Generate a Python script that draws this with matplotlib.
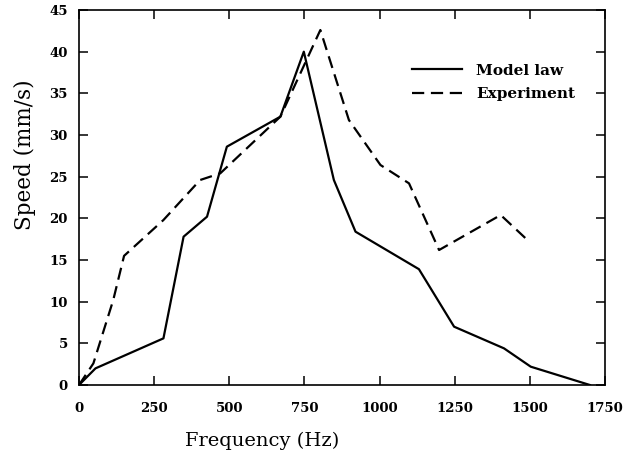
import matplotlib
matplotlib.use("Agg")
import matplotlib.pyplot as plt

# Data
model_freq = [0, 55, 281, 348, 426, 492, 670, 748, 848, 920, 1131, 1248, 1414, 1503, 1700]
model_speed = [0, 2.0, 5.6, 17.8, 20.2, 28.6, 32.2, 40.0, 24.6, 18.4, 13.9, 7.0, 4.4, 2.2, 0]

exp_freq = [0, 48, 114, 150, 281, 403, 470, 670, 803, 898, 1003, 1098, 1198, 1403, 1492]
exp_speed = [0, 2.6, 10.2, 15.5, 19.8, 24.6, 25.4, 32.2, 42.6, 31.8, 26.4, 24.2, 16.2, 20.4, 17.4]

xticks = [0, 250, 500, 750, 1000, 1250, 1500, 1750]
yticks = [0, 5, 10, 15, 20, 25, 30, 35, 40, 45]

plt.rcParams['font.family'] = ['DejaVu Serif']

fig = plt.figure(figsize=(6.4, 4.55), dpi=100)
ax = fig.add_axes([0.1234, 0.1538, 0.8219, 0.8242])

ax.plot(model_freq, model_speed, color='black', lw=1.6, label='Model law')
ax.plot(exp_freq, exp_speed, color='black', lw=1.6, linestyle=(0, (5.5, 3)), label='Experiment')

ax.set_xlim(0, 1750)
ax.set_ylim(0, 45)
ax.set_xticks(xticks)
ax.set_yticks(yticks)
ax.set_xticklabels([str(t) for t in xticks], fontweight='bold', fontsize=9.5)
ax.set_yticklabels([str(t) for t in yticks], fontweight='bold', fontsize=9.5)

ax.tick_params(direction='in', length=6.5, width=1.1, top=True, right=True)
ax.tick_params(axis='x', pad=12)
ax.tick_params(axis='y', pad=8)
for s in ax.spines.values():
    s.set_linewidth(1.2)

ax.set_xlabel('Frequency (Hz)', fontsize=14)
ax.set_ylabel('Speed (mm/s)', fontsize=15.5)
ax.xaxis.set_label_coords(0.348, -0.125)
ax.yaxis.set_label_coords(-0.082, 0.613)

ax.legend(loc='upper left', bbox_to_anchor=(0.633, 0.857), frameon=False,
          borderaxespad=0, borderpad=0, handlelength=3.3, handletextpad=0.9,
          labelspacing=0.62, prop={'weight': 'bold', 'size': 11})

fig.savefig('out.png', dpi=100)
